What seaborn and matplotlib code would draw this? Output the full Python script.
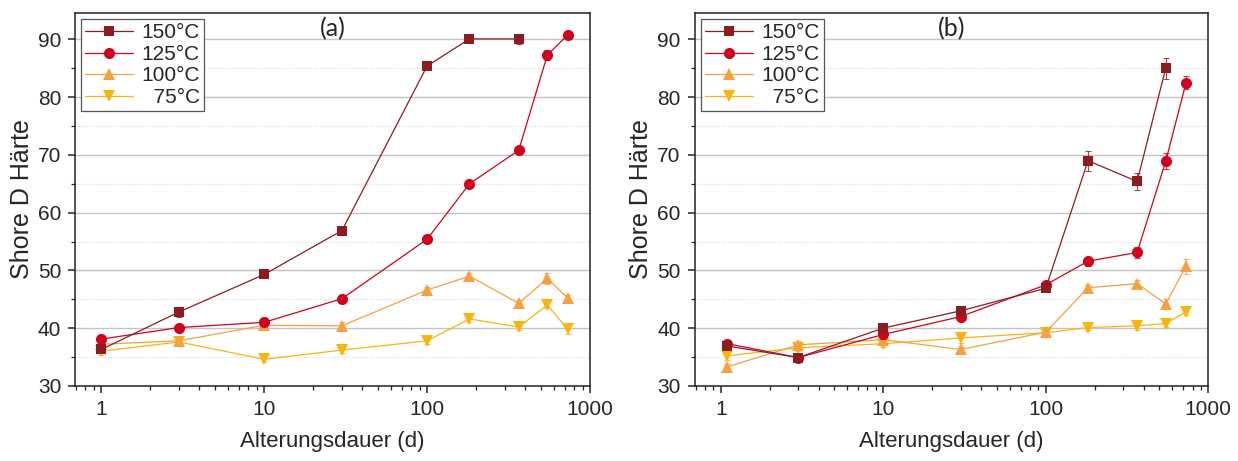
import numpy as np
import pandas as pd
import matplotlib
matplotlib.use("Agg")
import matplotlib.pyplot as plt
import seaborn as sns
from matplotlib.ticker import MultipleLocator, LogLocator, NullFormatter, FixedLocator

# Alterungsdauer in Tagen
days_a = [1, 3, 10, 30, 100, 182, 365, 547, 730]
days_b = [1.1, 3, 10, 30, 100, 182, 365, 547, 730]

temps = ["150°C", "125°C", "100°C", "75°C"]
legend_labels = ["150°C", "125°C", "100°C", "  75°C"]

# (a)
a_150 = [36.3, 42.8, 49.3, 56.9, 85.4, 90.1, 90.1]
a_125 = [38.1, 40.1, 41.0, 45.1, 55.4, 65.0, 70.8, 87.3, 90.8]
a_100 = [37.2, 37.8, 40.5, 40.4, 46.6, 49.0, 44.3, 48.6, 45.2]
a_75 = [36.0, 37.6, 34.6, 36.2, 37.8, 41.6, 40.2, 44.0, 39.8]
a_150_err = [0.5, 0.8, 0.5, 0.7, 0.5, 0.5, 0.8]
a_125_err = [0.5, 0.6, 0.6, 0.6, 0.5, 0.5, 0.7, 0.8, 0.4]
a_100_err = [0.6, 0.6, 0.8, 0.6, 0.5, 0.6, 0.5, 1.0, 0.5]
a_75_err = [0.6, 0.6, 0.5, 0.5, 0.5, 0.5, 0.5, 0.5, 0.8]

# (b)
b_150 = [36.9, 34.9, 40.0, 43.0, 46.9, 69.0, 65.4, 85.0]
b_125 = [37.3, 34.9, 38.9, 42.0, 47.5, 51.6, 53.1, 68.9, 82.5]
b_100 = [33.3, 37.1, 38.0, 36.3, 39.3, 47.0, 47.7, 44.2, 50.7]
b_75 = [35.2, 36.6, 37.3, 38.3, 39.2, 40.1, 40.4, 40.8, 42.8]
b_150_err = [0.6, 0.5, 0.6, 0.6, 0.5, 1.7, 1.5, 1.8]
b_125_err = [0.6, 0.5, 0.8, 0.7, 0.5, 0.8, 1.0, 1.4, 1.1]
b_100_err = [0.5, 0.6, 0.8, 0.5, 0.5, 0.5, 0.7, 0.8, 1.3]
b_75_err = [0.8, 0.6, 0.6, 0.8, 0.5, 0.5, 0.8, 0.6, 0.5]

colors = {"150°C": "#8e1b1f", "125°C": "#d0021e", "100°C": "#f6a041", "75°C": "#f8b50f"}
markers = {"150°C": "s", "125°C": "o", "100°C": "^", "75°C": "v"}
msizes = {"150°C": 7, "125°C": 8, "100°C": 8.5, "75°C": 8.5}

sns.set_style("white")
plt.rcParams["font.family"] = ["Liberation Sans", "DejaVu Sans"]


def make_df(days, series, errs):
    rows = []
    for t, vals, ee in zip(temps, series, errs):
        for d, v, e in zip(days, vals, ee):
            rows.append({"tage": d, "haerte": v, "err": e, "temp": t})
    return pd.DataFrame(rows)


df_a = make_df(days_a, [a_150, a_125, a_100, a_75], [a_150_err, a_125_err, a_100_err, a_75_err])
df_b = make_df(days_b, [b_150, b_125, b_100, b_75], [b_150_err, b_125_err, b_100_err, b_75_err])

fig = plt.figure(figsize=(12.38, 4.61), dpi=100)
ax_a = fig.add_axes([0.0606, 0.163, 0.416, 0.809])
ax_b = fig.add_axes([0.561, 0.163, 0.415, 0.809])

for ax, df, tag in [(ax_a, df_a, "(a)"), (ax_b, df_b, "(b)")]:
    for i, t in enumerate(temps):
        sub = df[df.temp == t]
        z = 10 - i
        ax.errorbar(sub.tage, sub.haerte, yerr=sub.err, fmt="none", ecolor=colors[t],
                    elinewidth=0.8, capsize=2.5, capthick=0.8, zorder=z, alpha=0.8)
        sns.lineplot(data=sub, x="tage", y="haerte", ax=ax, color=colors[t],
                     marker=markers[t], markersize=msizes[t], markeredgewidth=0,
                     linewidth=0.9, zorder=z, errorbar=None, label=t)
    ax.set_xscale("log")
    ax.set_xlim(0.69, 1000)
    ax.set_ylim(30, 94.6)
    ax.yaxis.set_major_locator(MultipleLocator(10))
    ax.yaxis.set_minor_locator(MultipleLocator(5))
    ax.xaxis.set_major_locator(FixedLocator([1, 10, 100, 1000]))
    ax.xaxis.set_minor_locator(LogLocator(base=10, subs=np.arange(2, 10)))
    ax.xaxis.set_minor_formatter(NullFormatter())
    ax.set_xticklabels(["1", "10", "100", "1000"])
    ax.grid(axis="y", which="major", color="#c4c4c4", linewidth=1.0, linestyle="-")
    ax.grid(axis="y", which="minor", color="#d8d8d8", linewidth=0.8, linestyle=":")
    ax.set_axisbelow(True)
    ax.tick_params(axis="both", which="major", direction="out", length=5, width=1.1,
                   labelsize=15, left=True, bottom=True, pad=5)
    ax.tick_params(axis="both", which="minor", direction="out", length=3, width=0.9,
                   left=True, bottom=True)
    for s in ax.spines.values():
        s.set_color("#222222")
        s.set_linewidth(1.1)
    ax.set_xlabel("Alterungsdauer (d)", fontsize=16, labelpad=9)
    ax.set_ylabel("Shore D Härte", fontsize=18, labelpad=3)
    ax.text(0.5, 0.99, tag, transform=ax.transAxes, ha="center", va="top",
            fontsize=18, family=["Lato", "DejaVu Sans"])
    h, _ = ax.get_legend_handles_labels()
    leg = ax.legend(h, legend_labels, loc="upper left", fontsize=15, frameon=True,
                    fancybox=False, edgecolor="#555555", framealpha=1,
                    borderaxespad=0.3, borderpad=0.2, labelspacing=0.12,
                    handlelength=2.3, handletextpad=0.4)
    leg.get_frame().set_linewidth(0.9)

fig.savefig("out.png", dpi=100)
